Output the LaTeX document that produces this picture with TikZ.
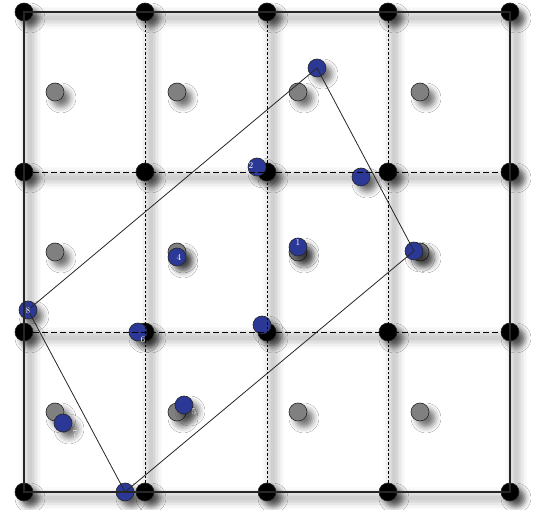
\documentclass[tikz,border=0pt]{standalone}
\usetikzlibrary{shadows.blur}
\definecolor{dotblue}{RGB}{44,56,150}
\definecolor{dotgray}{RGB}{128,128,128}
\definecolor{lightnum}{RGB}{235,235,235}
\begin{document}
\begin{tikzpicture}[x=1pt,y=-1pt,
  dot/.style={circle, minimum size=18pt, inner sep=0pt, draw=black!85, line width=0.6pt,
    blur shadow={shadow xshift=6pt, shadow yshift=-6pt, shadow blur radius=6pt, shadow opacity=55}},
  blackdot/.style={dot, fill=black},
  graydot/.style={dot, fill=dotgray},
  bluedot/.style={dot, fill=dotblue},
  num/.style={text=white, font=\fontsize{9}{9}\selectfont, inner sep=0pt},
  lnum/.style={text=lightnum, font=\fontsize{9}{9}\selectfont, inner sep=0pt},
  frameline/.style={line width=1.4pt, black!85},
  vdash/.style={line width=0.8pt, dash pattern=on 2.5pt off 2pt},
  hdash/.style={line width=0.8pt, dash pattern=on 6pt off 3pt},
  polyline/.style={line width=0.8pt, black!85},
  lshadow/.style={line cap=round, black, opacity=#1}
]
\useasboundingbox[fill=white] (0,0) rectangle (538,510);

% soft shadows of the grid lines
\foreach \x in {24,145,267,388,510}{
  \foreach \w/\o in {22/0.015,19/0.02,16/0.025,13/0.03,10/0.03,7/0.035,4/0.035}
    \draw[lshadow=\o, line width=\w pt] (\x+6,18) -- (\x+6,498);
}
\foreach \y in {12,172,332,492}{
  \foreach \w/\o in {22/0.015,19/0.02,16/0.025,13/0.03,10/0.03,7/0.035,4/0.035}
    \draw[lshadow=\o, line width=\w pt] (30,\y+6) -- (516,\y+6);
}

% black grid dots
\foreach \i/\x in {0/24,1/145,2/267,3/388,4/510}{
  \foreach \j/\y in {0/12,1/172,2/332,3/492}{
    \node[blackdot] (b\i\j) at (\x,\y) {};
  }
}
% gray centre dots
\foreach \i/\x in {0/55,1/177,2/298,3/420}{
  \foreach \j/\y in {0/92,1/252,2/412}{
    \node[graydot] (g\i\j) at (\x,\y) {};
  }
}
% blue dots
\node[bluedot] (pt) at (317,68) {};
\node[bluedot] (q2) at (257,167) {};
\node[bluedot] (q3) at (361,177) {};
\node[bluedot] (q1) at (298,247) {};
\node[bluedot] (pr) at (414,251) {};
\node[bluedot] (q4) at (177,257) {};
\node[bluedot] (p8) at (28,310) {};
\node[bluedot] (q6) at (138,332) {};
\node[bluedot] (qc) at (262,325) {};
\node[bluedot] (q5) at (184,405) {};
\node[bluedot] (q7) at (63,423) {};
\node[bluedot] (pb) at (125,492) {};

% light labels
\node[lnum] (l7) at (75,434) {7};
\node[lnum] (l5) at (194,412) {5};

% dashed inner grid lines
\foreach \i in {1,2,3}{
  \draw[vdash] (b\i0.center) -- (b\i3.center);
}
\foreach \j in {1,2}{
  \draw[hdash] (b0\j.center) -- (b4\j.center);
}
% outer frame
\draw[frameline] (b00.center) -- (b40.center) -- (b43.center) -- (b03.center) -- cycle;

% rotated rectangle
\draw[polyline] (p8.center) -- (pt.center) -- (pr.center) -- (pb.center) -- cycle;

% white labels
\node[num] (l8) at (28,311) {8};
\node[num] (l4) at (179,257) {4};
\node[num] (l2) at (251,166) {2};
\node[num] (l1) at (298,243) {1};
\node[num] (l6) at (143,340) {6};
\end{tikzpicture}
\end{document}
